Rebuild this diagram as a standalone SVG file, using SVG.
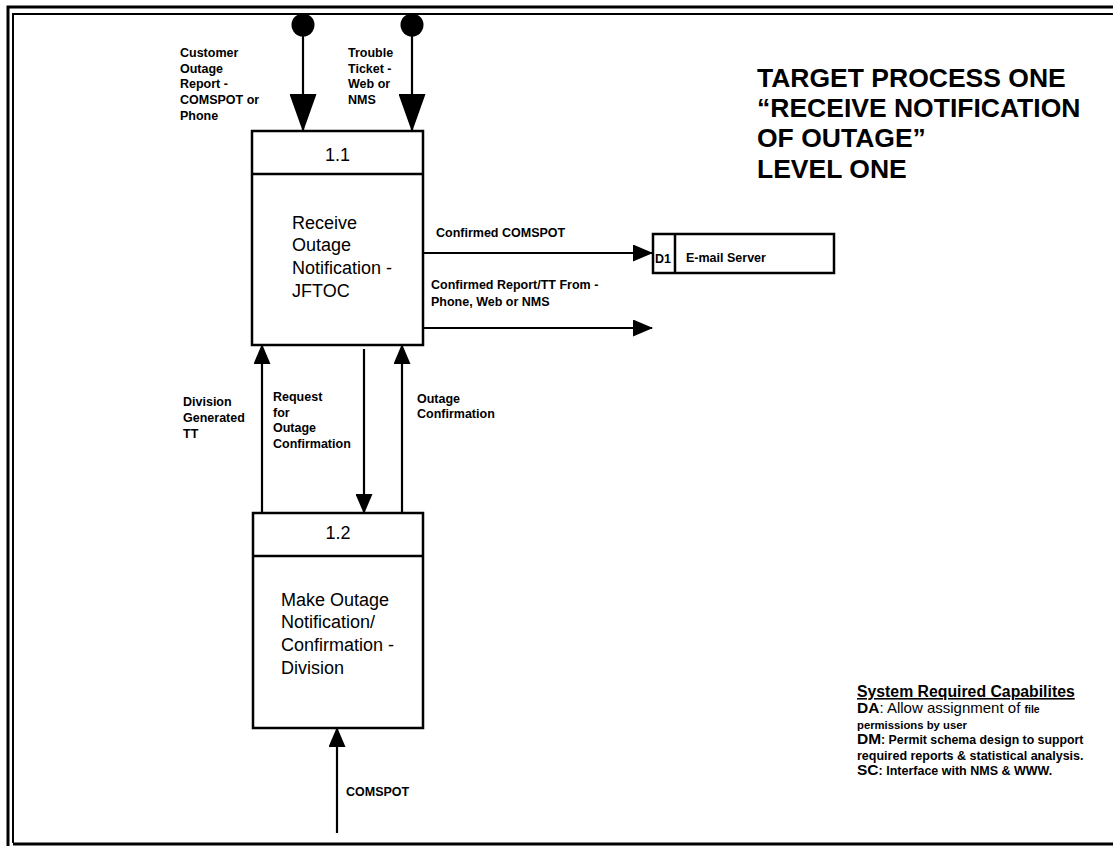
<svg xmlns="http://www.w3.org/2000/svg" width="1113" height="846" viewBox="0 0 1113 846">
<style>
  .lbl{font-family:"Liberation Sans",Arial,sans-serif;font-weight:bold;font-size:12.5px;fill:#000}
  .body{font-family:"Liberation Sans",Arial,sans-serif;font-size:18px;fill:#000}
  .title{font-family:"Liberation Sans",Arial,sans-serif;font-weight:bold;font-size:26.5px;fill:#000}
  .box{fill:#fff;stroke:#000;stroke-width:2.5}
  .div{stroke:#000;stroke-width:2.5}
  .con{fill:none;stroke:#000;stroke-width:2.2}
  .big{marker-end:url(#bigHead)}
  .small{marker-end:url(#smallHead)}
  .frame{fill:none;stroke:#000}
  .cap{font-family:"Liberation Sans",Arial,sans-serif;font-weight:bold;fill:#000}
</style>
<defs>
  <marker id="bigHead" markerUnits="userSpaceOnUse" viewBox="0 0 38 27" refX="37" refY="13.5" markerWidth="38" markerHeight="27" orient="auto">
    <path d="M0,0 L38,13.5 L0,27 Z" fill="#000"/>
  </marker>
  <marker id="smallHead" markerUnits="userSpaceOnUse" viewBox="0 0 20 17" refX="19" refY="8.5" markerWidth="20" markerHeight="17" orient="auto">
    <path d="M0,0 L20,8.5 L0,17 Z" fill="#000"/>
  </marker>
</defs>
<rect width="1113" height="846" fill="#fff"/>
<g id="frame">
  <path class="frame" stroke-width="3" d="M8,846 V7 H1113"/>
  <path class="frame" stroke-width="2" d="M13,843 V14 H1113"/>
  <path class="frame" stroke-width="3" d="M13,844 H1113"/>
</g>
<g id="connectors">
  <circle cx="303" cy="25" r="11.5" fill="#000"/>
  <circle cx="412" cy="25" r="11.5" fill="#000"/>
  <path class="con big" d="M303,25 V131"/>
  <path class="con big" d="M412,25 V131"/>
  <path class="con small" d="M423,253 H652"/>
  <path class="con small" d="M423,328 H652"/>
  <path class="con small" d="M262,513 V345"/>
  <path class="con small" d="M364,349 V513"/>
  <path class="con small" d="M402,513 V345"/>
  <path class="con small" d="M337,833 V728"/>
  <text class="lbl" x="180" y="57">Customer</text>
  <text class="lbl" x="180" y="73">Outage</text>
  <text class="lbl" x="180" y="88">Report -</text>
  <text class="lbl" x="180" y="104">COMSPOT or</text>
  <text class="lbl" x="180" y="120">Phone</text>
  <text class="lbl" x="348" y="57">Trouble</text>
  <text class="lbl" x="348" y="73">Ticket -</text>
  <text class="lbl" x="348" y="88">Web or</text>
  <text class="lbl" x="348" y="104">NMS</text>
  <text class="lbl" x="436" y="237">Confirmed COMSPOT</text>
  <text class="lbl" x="431" y="289">Confirmed Report/TT From -</text>
  <text class="lbl" x="431" y="306">Phone, Web or NMS</text>
  <text class="lbl" x="183" y="406">Division</text>
  <text class="lbl" x="183" y="422">Generated</text>
  <text class="lbl" x="183" y="438">TT</text>
  <text class="lbl" x="273" y="401">Request</text>
  <text class="lbl" x="273" y="417">for</text>
  <text class="lbl" x="273" y="432">Outage</text>
  <text class="lbl" x="273" y="448">Confirmation</text>
  <text class="lbl" x="417" y="403">Outage</text>
  <text class="lbl" x="417" y="418">Confirmation</text>
  <text class="lbl" x="346" y="796">COMSPOT</text>
</g>
<g id="p1_1">
  <rect class="box" x="252" y="131" width="171" height="214"/>
  <line class="div" x1="252" y1="174" x2="423" y2="174"/>
  <text class="body" x="337.5" y="161" text-anchor="middle">1.1</text>
  <text class="body" x="292" y="229">Receive</text>
  <text class="body" x="292" y="251">Outage</text>
  <text class="body" x="292" y="274">Notification -</text>
  <text class="body" x="292" y="297">JFTOC</text>
</g>
<g id="p1_2">
  <rect class="box" x="253" y="513" width="170" height="215"/>
  <line class="div" x1="253" y1="556" x2="423" y2="556"/>
  <text class="body" x="338" y="539" text-anchor="middle">1.2</text>
  <text class="body" x="281" y="606">Make Outage</text>
  <text class="body" x="281" y="628">Notification/</text>
  <text class="body" x="281" y="651">Confirmation -</text>
  <text class="body" x="281" y="674">Division</text>
</g>
<g id="d1">
  <rect class="box" x="653" y="234" width="181" height="39" stroke-width="2"/>
  <line class="div" x1="675" y1="234" x2="675" y2="273" stroke-width="2"/>
  <text class="lbl" x="655" y="263" font-size="11">D1</text>
  <text class="lbl" x="686" y="262">E-mail Server</text>
</g>
<g id="title">
  <text class="title" x="757" y="87">TARGET PROCESS ONE</text>
  <text class="title" x="757" y="117">“RECEIVE NOTIFICATION</text>
  <text class="title" x="757" y="147">OF OUTAGE”</text>
  <text class="title" x="757" y="178">LEVEL ONE</text>
</g>
<g id="capabilities">
  <text class="cap" x="857" y="697" font-size="15.8" text-decoration="underline">System Required Capabilites</text>
  <text class="cap" x="857" y="713" font-size="15.5">DA<tspan font-weight="normal" font-size="15">: Allow assignment of </tspan><tspan font-size="10.5">file</tspan></text>
  <text class="cap" x="857" y="729" font-size="11.3">permissions by user</text>
  <text class="cap" x="857" y="744" font-size="15.5">DM<tspan font-size="12.3">: Permit schema design to support</tspan></text>
  <text class="cap" x="857" y="760" font-size="12.5">required reports &amp; statistical analysis.</text>
  <text class="cap" x="857" y="775" font-size="15.5">SC<tspan font-size="12.5">: Interface with NMS &amp; WWW.</tspan></text>
</g>
</svg>
